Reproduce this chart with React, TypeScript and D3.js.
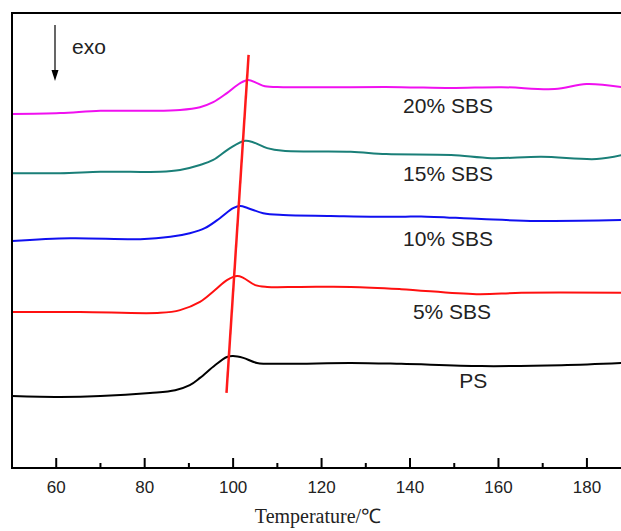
import React, { useEffect, useRef } from 'react';
import * as d3 from 'd3';

// temperature (°C) vs heat flow (a.u., arbitrary offset per curve)
const psT = [50, 60.9, 70, 81.2, 86.9, 90.2, 92.5, 95.9, 98.6, 100.0, 102.3, 105.4, 111.3, 126.6, 138.0, 156.1, 174.3, 188.1];
const psV = [15.8, 15.6, 15.8, 16.5, 17.1, 18.2, 19.8, 22.6, 24.4, 24.6, 24.2, 23.1, 22.9, 23.1, 22.9, 22.4, 22.6, 23.1];

const sbs5T = [50, 65.4, 83.5, 88.0, 92.5, 95.9, 98.6, 100.9, 102.3, 105.0, 107.7, 115.3, 126.6, 138.0, 155.0, 165.2, 188.1];
const sbs5V = [34.3, 34.3, 34.1, 34.7, 36.5, 39.1, 41.3, 42.2, 41.8, 40.2, 39.8, 39.8, 39.8, 39.3, 38.2, 38.5, 38.5];

const sbs10T = [50, 63.2, 79.0, 85.8, 90.2, 93.6, 97.0, 100.0, 101.6, 103.4, 106.8, 111.3, 122.0, 138.0, 142.5, 156.1, 168.6, 188.1];
const sbs10V = [49.9, 50.5, 50.3, 50.8, 51.6, 52.7, 54.9, 57.1, 57.6, 57.1, 56.0, 55.6, 55.4, 55.2, 55.3, 54.7, 54.3, 54.5];

const sbs15T = [50, 60.9, 70, 76.8, 83.5, 88.0, 92.5, 95.5, 99.3, 102.7, 104.5, 107.7, 111.3, 126.6, 134.6, 149.3, 158.4, 169.7, 182.2, 188.1];
const sbs15V = [64.8, 64.8, 65.1, 65.1, 65.1, 65.5, 66.6, 67.7, 70.3, 71.9, 71.6, 70.3, 69.7, 69.5, 69.0, 68.8, 68.1, 68.4, 67.9, 68.8];

const sbs20T = [50, 60.9, 70, 81.3, 88.0, 92.5, 95.5, 98.6, 101.6, 103.4, 105.4, 107.2, 111.3, 126.6, 138.0, 149.3, 160.7, 172.7, 179.9, 188.1];
const sbs20V = [77.8, 78.0, 78.5, 78.5, 78.7, 79.3, 80.4, 82.4, 84.6, 85.3, 84.6, 83.9, 83.7, 83.7, 83.7, 83.5, 83.7, 83.3, 84.4, 83.7];

const seriesNames = ['PS', '5% SBS', '10% SBS', '15% SBS', '20% SBS'];
const seriesColors = ['#000000', '#ff1010', '#1010f0', '#1a7f78', '#f010f0'];
const labelT = [154.3, 149.5, 148.6, 148.6, 148.6];
const labelV = [17.6, 32.7, 48.8, 63.1, 78.0];

// Tg shift guide line
const tgT = [98.5, 103.5];
const tgV = [16.5, 90.8];

const majorTicks = [60, 80, 100, 120, 140, 160, 180];
const minorTicks = [70, 90, 110, 130, 150, 170];

export default function App() {
  const ref = useRef<SVGSVGElement>(null);

  useEffect(() => {
    const svg = d3.select(ref.current);
    svg.selectAll('*').remove();

    const left = 12, top = 13, bottom = 468;
    const x = d3.scaleLinear().domain([50, 190]).range([left, left + 140 * 4.4225]);
    const y = d3.scaleLinear().domain([0, 100]).range([bottom, top]);

    const allT = [psT, sbs5T, sbs10T, sbs15T, sbs20T];
    const allV = [psV, sbs5V, sbs10V, sbs15V, sbs20V];

    const line = d3
      .line<[number, number]>()
      .x(d => x(d[0]))
      .y(d => y(d[1]))
      .curve(d3.curveCatmullRom.alpha(0.5));

    allT.forEach((ts, i) => {
      const pts = ts.map((t, j) => [t, allV[i][j]] as [number, number]);
      svg
        .append('path')
        .attr('d', line(pts))
        .attr('fill', 'none')
        .attr('stroke', seriesColors[i])
        .attr('stroke-width', 2);
      svg
        .append('text')
        .attr('x', x(labelT[i]))
        .attr('y', y(labelV[i]))
        .attr('text-anchor', 'middle')
        .attr('font-family', 'Liberation Sans, Arial, sans-serif')
        .attr('font-size', 21)
        .attr('fill', '#222')
        .text(seriesNames[i]);
    });

    svg
      .append('line')
      .attr('x1', x(tgT[0]))
      .attr('y1', y(tgV[0]))
      .attr('x2', x(tgT[1]))
      .attr('y2', y(tgV[1]))
      .attr('stroke', '#ff1a1a')
      .attr('stroke-width', 2.5);

    // frame
    svg
      .append('rect')
      .attr('x', left)
      .attr('y', top)
      .attr('width', x(190) - left)
      .attr('height', bottom - top)
      .attr('fill', 'none')
      .attr('stroke', '#000')
      .attr('stroke-width', 2);

    const axis = svg.append('g');
    axis
      .selectAll('line.major')
      .data(majorTicks)
      .enter()
      .append('line')
      .attr('x1', d => x(d))
      .attr('x2', d => x(d))
      .attr('y1', bottom)
      .attr('y2', bottom - 10)
      .attr('stroke', '#000')
      .attr('stroke-width', 2);
    axis
      .selectAll('line.minor')
      .data(minorTicks)
      .enter()
      .append('line')
      .attr('x1', d => x(d))
      .attr('x2', d => x(d))
      .attr('y1', bottom)
      .attr('y2', bottom - 5)
      .attr('stroke', '#000')
      .attr('stroke-width', 2);
    axis
      .selectAll('text')
      .data(majorTicks)
      .enter()
      .append('text')
      .attr('x', d => x(d))
      .attr('y', bottom + 25)
      .attr('text-anchor', 'middle')
      .attr('font-family', 'Liberation Sans, Arial, sans-serif')
      .attr('font-size', 17)
      .attr('fill', '#222')
      .text(d => d);

    svg
      .append('text')
      .attr('x', 318)
      .attr('y', 523)
      .attr('text-anchor', 'middle')
      .attr('font-family', 'Liberation Serif, Times New Roman, serif')
      .attr('font-size', 20)
      .attr('fill', '#222')
      .text('Temperature/℃');

    // exo arrow
    svg
      .append('line')
      .attr('x1', 55)
      .attr('y1', 25)
      .attr('x2', 55)
      .attr('y2', 72)
      .attr('stroke', '#000')
      .attr('stroke-width', 1.2);
    svg
      .append('path')
      .attr('d', 'M51.5,70 L58.5,70 L55,81 Z')
      .attr('fill', '#000');
    svg
      .append('text')
      .attr('x', 72)
      .attr('y', 54)
      .attr('font-family', 'Liberation Sans, Arial, sans-serif')
      .attr('font-size', 21)
      .attr('fill', '#222')
      .text('exo');
  }, []);

  return (
    <svg
      ref={ref}
      width={621}
      height={531}
      style={{ position: 'absolute', left: 0, top: 0, background: '#fff' }}
    />
  );
}
